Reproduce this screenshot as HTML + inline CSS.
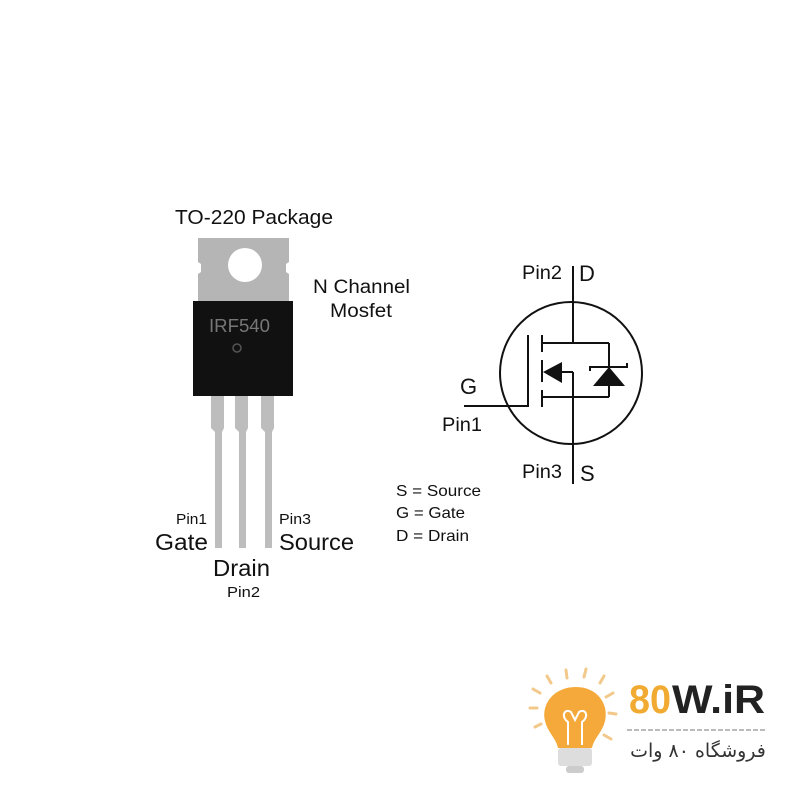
<!DOCTYPE html>
<html><head><meta charset="utf-8"><style>
body{margin:0;background:#fff;position:relative;width:800px;height:800px;overflow:hidden}
svg{display:block}
text{font-family:"Liberation Sans",sans-serif;fill:#111}
#fa{position:absolute;left:628px;top:740px;width:140px;text-align:center;font-family:"DejaVu Sans",sans-serif;font-size:19px;color:#333;direction:rtl;white-space:nowrap}
</style></head><body>
<svg width="800" height="800" viewBox="0 0 800 800">
<rect width="800" height="800" fill="#fff"/>
<!-- package -->
<text x="175" y="224" font-size="20" textLength="158" lengthAdjust="spacingAndGlyphs">TO-220 Package</text>
<path d="M198 238 H289 V262 L286 264 V272 L289 274 V302 H198 V274 L201 272 V264 L198 262 Z" fill="#b5b5b5"/>
<circle cx="245" cy="265" r="17" fill="#fff"/>
<rect x="193" y="301" width="100" height="95" fill="#111"/>
<text x="209" y="332" font-size="18" textLength="61" lengthAdjust="spacingAndGlyphs" style="fill:#777">IRF540</text>
<circle cx="237" cy="348" r="4" fill="none" stroke="#555" stroke-width="1.5"/>
<g fill="#bdbdbd">
<path d="M211 396 H224 V428 L222 432 V548 H215 V432 L211 428 Z"/>
<path d="M235 396 H248 V428 L246 432 V548 H239 V432 L235 428 Z"/>
<path d="M261 396 H274 V428 L272 432 V548 H265 V432 L261 428 Z"/>
</g>
<text x="313" y="293" font-size="19" textLength="97" lengthAdjust="spacingAndGlyphs">N Channel</text>
<text x="330" y="317" font-size="19" textLength="62" lengthAdjust="spacingAndGlyphs">Mosfet</text>
<text x="176" y="524" font-size="15" textLength="31" lengthAdjust="spacingAndGlyphs">Pin1</text>
<text x="155" y="550" font-size="23" textLength="53" lengthAdjust="spacingAndGlyphs">Gate</text>
<text x="279" y="524" font-size="15" textLength="32" lengthAdjust="spacingAndGlyphs">Pin3</text>
<text x="279" y="550" font-size="23" textLength="75" lengthAdjust="spacingAndGlyphs">Source</text>
<text x="213" y="576" font-size="23" textLength="57" lengthAdjust="spacingAndGlyphs">Drain</text>
<text x="227" y="597" font-size="15" textLength="33" lengthAdjust="spacingAndGlyphs">Pin2</text>
<!-- schematic -->
<g stroke="#111" stroke-width="2" fill="none">
<circle cx="571" cy="373" r="71"/>
<line x1="573" y1="266" x2="573" y2="343"/>
<line x1="542" y1="343" x2="609" y2="343"/>
<line x1="542" y1="397" x2="609" y2="397"/>
<line x1="609" y1="343" x2="609" y2="397"/>
<line x1="555" y1="372" x2="573" y2="372"/>
<line x1="573" y1="372" x2="573" y2="484"/>
<line x1="542" y1="335" x2="542" y2="352"/>
<line x1="542" y1="360" x2="542" y2="382"/>
<line x1="542" y1="390" x2="542" y2="407"/>
<line x1="528" y1="335" x2="528" y2="407"/>
<line x1="464" y1="406" x2="528" y2="406"/>
<path d="M590 371 V367 H627 V363"/>
</g>
<path d="M543 372 L562 362 V383 Z" fill="#111"/>
<path d="M593 386 L609 367 L625 386 Z" fill="#111"/>
<text x="522" y="279" font-size="19" textLength="40" lengthAdjust="spacingAndGlyphs">Pin2</text>
<text x="579" y="281" font-size="22">D</text>
<text x="460" y="394" font-size="22">G</text>
<text x="442" y="431" font-size="19" textLength="40" lengthAdjust="spacingAndGlyphs">Pin1</text>
<text x="522" y="478" font-size="19" textLength="40" lengthAdjust="spacingAndGlyphs">Pin3</text>
<text x="580" y="481" font-size="22">S</text>
<text x="396" y="496" font-size="16" textLength="85" lengthAdjust="spacingAndGlyphs">S = Source</text>
<text x="396" y="518" font-size="16" textLength="69" lengthAdjust="spacingAndGlyphs">G = Gate</text>
<text x="396" y="541" font-size="16" textLength="73" lengthAdjust="spacingAndGlyphs">D = Drain</text>
<!-- logo -->
<g stroke="#f2c98a" stroke-width="3" stroke-linecap="round">
<line x1="566" y1="670" x2="567" y2="678"/><line x1="586" y1="669" x2="584" y2="677"/>
<line x1="547" y1="676" x2="551" y2="683"/><line x1="604" y1="676" x2="600" y2="683"/>
<line x1="533" y1="689" x2="540" y2="693"/><line x1="613" y1="693" x2="606" y2="697"/>
<line x1="530" y1="708" x2="537" y2="708"/><line x1="609" y1="713" x2="616" y2="714"/>
<line x1="535" y1="727" x2="541" y2="724"/><line x1="604" y1="735" x2="611" y2="739"/>
</g>
<path d="M576 687 C553 687 541 705 545 721 C548 733 556 738 558 748 H592 C594 738 602 733 605 721 C609 705 598 687 576 687 Z" fill="#f4a93a"/>
<path d="M568 745 V722 C560 716 565 708 571 712 L575 720 L579 712 C585 708 590 716 582 722 V745" fill="none" stroke="#fff" stroke-width="2"/>
<rect x="558" y="748" width="34" height="18" rx="3" fill="#ddd"/>
<rect x="566" y="766" width="18" height="7" rx="3" fill="#ccc"/>
<text x="629" y="713" font-size="40" font-weight="bold" textLength="42" lengthAdjust="spacingAndGlyphs" style="fill:#f2ab32">80</text>
<text x="672" y="713" font-size="40" font-weight="bold" textLength="93" lengthAdjust="spacingAndGlyphs" style="fill:#222">W.iR</text>
<line x1="627" y1="730" x2="767" y2="730" stroke="#bbb" stroke-width="2" stroke-dasharray="5,2"/>
</svg>
<div id="fa">فروشگاه ۸۰ وات</div>
</body></html>
